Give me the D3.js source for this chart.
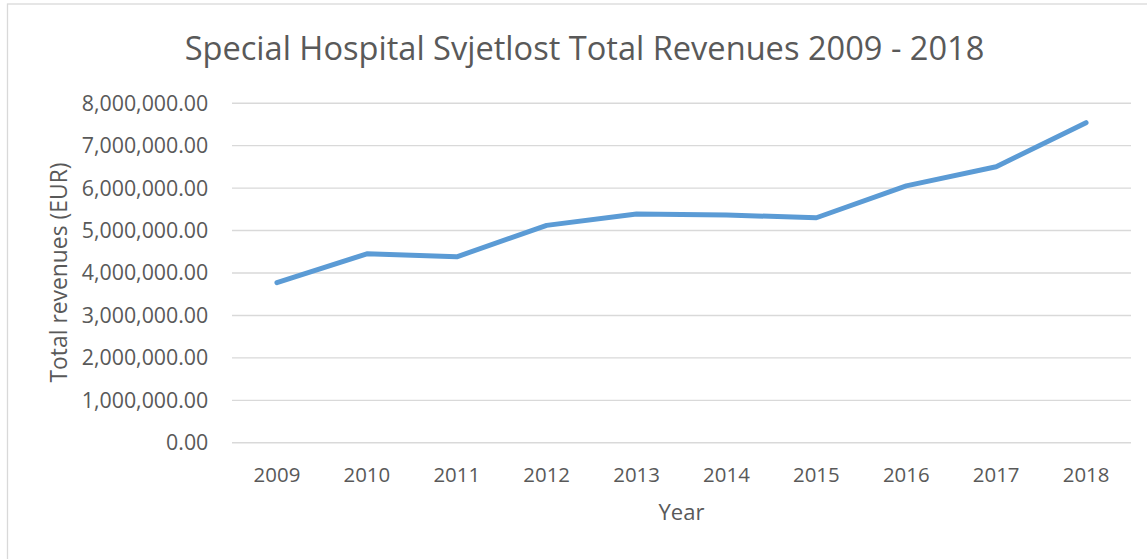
<!DOCTYPE html>
<html>
<head>
<meta charset="utf-8">
<script src="https://cdn.jsdelivr.net/npm/d3@7"></script>
<style>
  html, body { margin: 0; padding: 0; background: #fff; }
  svg text { font-family: "Open Sans", "Noto Sans", sans-serif; fill: #595959; }
</style>
</head>
<body>
<svg id="chart" width="1147" height="559"></svg>
<script>
const years = ["2009","2010","2011","2012","2013","2014","2015","2016","2017","2018"];
const revenues = [3760000, 4440000, 4370000, 5110000, 5380000, 5355000, 5290000, 6040000, 6490000, 7530000];
const yTicks = [0, 1000000, 2000000, 3000000, 4000000, 5000000, 6000000, 7000000, 8000000];
const titleText = "Special Hospital Svjetlost Total Revenues 2009 - 2018";
const xTitle = "Year";
const yTitle = "Total revenues (EUR)";

const svg = d3.select("#chart");
const W = 1147, H = 559;
const plot = { left: 232, right: 1131, top: 102.7, bottom: 442.3 };

// chart border
svg.append("rect")
  .attr("x", 7.5).attr("y", 4).attr("width", W + 10).attr("height", H + 10)
  .attr("fill", "#fff").attr("stroke", "#d9d9d9").attr("stroke-width", 1.3);

const x = d3.scaleBand().domain(years).range([plot.left, plot.right]);
const y = d3.scaleLinear().domain([0, 8000000]).range([plot.bottom, plot.top]);

function fit(sel, target) {
  const node = sel.node();
  const fs = parseFloat(sel.attr("font-size"));
  const w = node.getComputedTextLength();
  sel.attr("font-size", (fs * target / w).toFixed(2));
}

// gridlines
const yAxis = d3.axisLeft(y).tickValues(yTicks)
  .tickSize(-(plot.right - plot.left)).tickPadding(24)
  .tickFormat(d => d3.format(",.2f")(d));
const gy = svg.append("g").attr("transform", `translate(${plot.left},0)`).call(yAxis);
gy.select(".domain").remove();
gy.selectAll(".tick line").attr("stroke", "#d9d9d9").attr("stroke-width", 1.4);
gy.selectAll(".tick text")
  .attr("font-size", 19.5).attr("fill", "#595959")
  .attr("x", 208.3 - plot.left).attr("dy", "0.35em")
  .style("font-family", '"Open Sans", sans-serif');
// scale y tick labels to match width of 8,000,000.00 (~126.6px)
{
  const last = gy.selectAll(".tick text").filter(d => d === 8000000);
  const w = last.node().getComputedTextLength();
  const fs = 19.5 * 126.6 / w;
  gy.selectAll(".tick text").attr("font-size", fs.toFixed(2));
}

// x axis
const xAxis = d3.axisBottom(x).tickSize(0).tickPadding(0);
const gx = svg.append("g").attr("transform", `translate(0,${plot.bottom})`).call(xAxis);
gx.select(".domain").remove();
gx.selectAll(".tick text")
  .attr("font-size", 19.5).attr("fill", "#595959")
  .attr("y", 39.4).attr("dy", 0)
  .style("font-family", '"Open Sans", sans-serif');
{
  const first = gx.selectAll(".tick text").filter(d => d === "2009");
  const w = first.node().getComputedTextLength();
  gx.selectAll(".tick text").attr("font-size", (19.5 * 46.7 / w).toFixed(2));
}

// line
const line = d3.line().x((d, i) => x(years[i]) + x.bandwidth() / 2).y(d => y(d));
svg.append("path").datum(revenues)
  .attr("d", line).attr("fill", "none")
  .attr("stroke", "#5b9bd5").attr("stroke-width", 5)
  .attr("stroke-linecap", "round").attr("stroke-linejoin", "round");

// title
const t = svg.append("text").attr("x", 584.5).attr("y", 60)
  .attr("text-anchor", "middle").attr("font-size", 30).text(titleText);
fit(t, 800);

// x title
const xt = svg.append("text").attr("x", (plot.left + plot.right) / 2).attr("y", 520)
  .attr("text-anchor", "middle").attr("font-size", 21).text(xTitle);
fit(xt, 46);

// y title
const yt = svg.append("text")
  .attr("transform", `translate(67,${(plot.top + plot.bottom) / 2}) rotate(-90)`)
  .attr("text-anchor", "middle").attr("font-size", 21).text(yTitle);
fit(yt, 220);
</script>
</body>
</html>
